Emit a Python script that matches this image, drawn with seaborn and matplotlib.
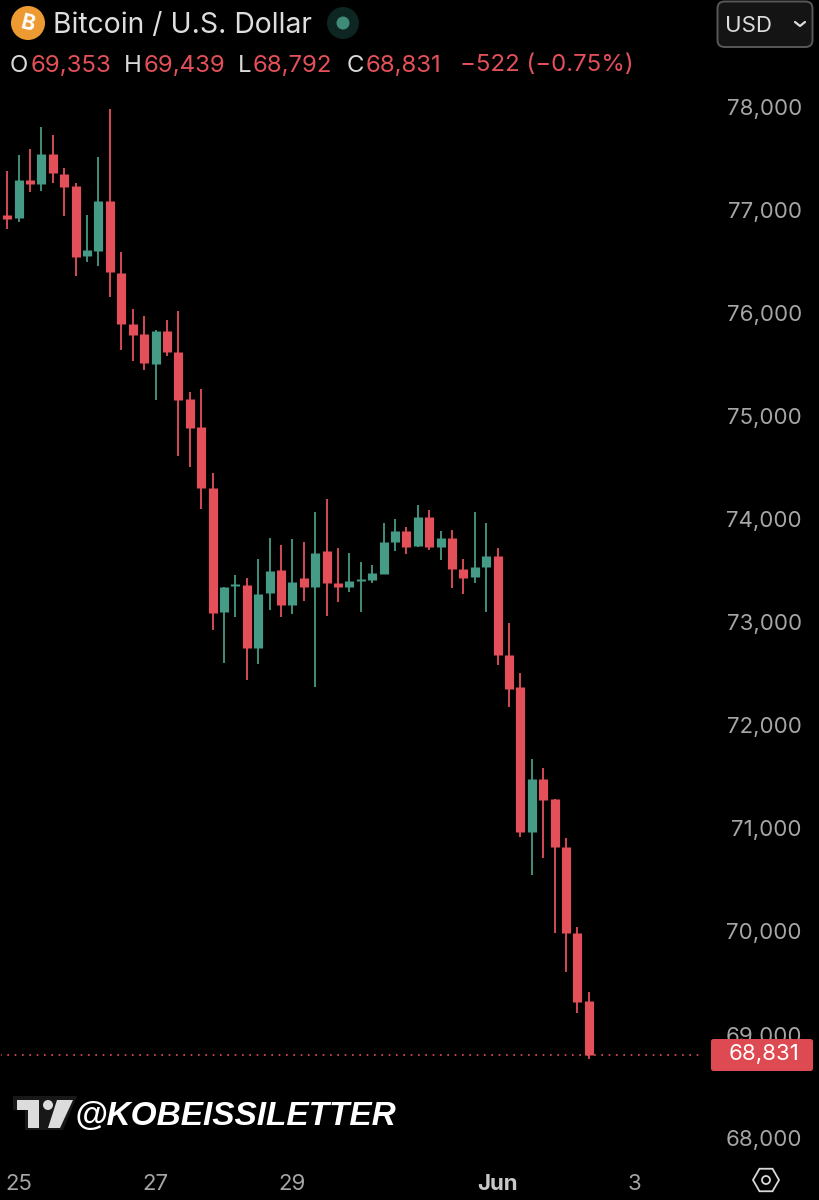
import numpy as np
import pandas as pd
import seaborn as sns
import matplotlib.pyplot as plt
from matplotlib.patches import Circle, FancyBboxPatch, Polygon, RegularPolygon
from matplotlib.transforms import ScaledTranslation

# 4h candles, index 0 is the first full candle on screen
candle_idx = list(range(-1, 52))
opens = [76669, 76979, 76947, 77321, 77280, 77568, 77377, 77260, 76584, 76633, 77115, 76419, 75922, 75825,
         75537, 75851, 75653, 75194, 74923, 74334, 73128, 73380, 73387, 72779, 73310, 73533, 73193, 73458,
         73371, 73720, 73412, 73374, 73429, 73442, 73500, 73807, 73911, 73768, 74052, 73762, 73846, 73548,
         73465, 73562, 73668, 72708, 72404, 70997, 71505, 71314, 70851, 70011, 69353]
highs = [77076, 77406, 77558, 77619, 77835, 77755, 77438, 77286, 76976, 77539, 78007, 76617, 76067, 75996,
         75861, 75960, 76048, 75259, 75288, 74473, 73371, 73487, 73461, 73642, 73849, 73778, 73839, 73804,
         74101, 74224, 73746, 73703, 73613, 73587, 73994, 74030, 73950, 74166, 74118, 73917, 73924, 73639,
         74098, 73994, 73746, 73018, 72533, 71699, 71612, 71314, 70933, 70076, 69439]
lows = [76669, 76840, 76914, 77199, 77215, 77289, 76972, 76387, 76523, 76487, 76181, 75667, 75566, 75475,
        75187, 75614, 74644, 74538, 74130, 72956, 72630, 73083, 72468, 72627, 73147, 73083, 73109, 73235,
        72398, 73092, 73228, 73325, 73131, 73409, 73500, 73723, 73688, 73759, 73732, 73636, 73361, 73300,
        73412, 73131, 72617, 72210, 70949, 70577, 70745, 70017, 69639, 69235, 68792]
closes = [76969, 76937, 77321, 77280, 77568, 77389, 77251, 76569, 76636, 77115, 76423, 75919, 75815, 75546,
          75851, 75647, 75187, 74916, 74331, 73121, 73371, 73400, 72779, 73306, 73523, 73193, 73416, 73371,
          73703, 73409, 73374, 73432, 73448, 73507, 73810, 73911, 73762, 74052, 73759, 73846, 73545, 73455,
          73568, 73668, 72714, 72381, 70997, 71508, 71305, 70849, 70017, 69348, 68831]

price_ticks = [78000, 77000, 76000, 75000, 74000, 73000, 72000, 71000, 70000, 69000, 68000]
date_ticks = [1, 13, 25, 43, 55]
date_labels = ["25", "27", "29", "Jun", "3"]
last_price = 68831

RED = "#e4505a"
GREEN = "#469b86"
GREY = "#a6a6a6"

sns.set_theme(style="dark", rc={"figure.facecolor": "black", "axes.facecolor": "black",
                                "axes.edgecolor": "black", "axes.grid": False})
plt.rcParams["font.family"] = ["Inter", "DejaVu Sans"]

df = pd.DataFrame({"idx": candle_idx, "open": opens, "high": highs, "low": lows, "close": closes})
df["side"] = np.where(df["close"] >= df["open"], "up", "down")
palette = {"up": GREEN, "down": RED}

wicks = df.melt(id_vars=["idx", "side"], value_vars=["low", "high"], value_name="price")
bodies = df.melt(id_vars=["idx", "side"], value_vars=["open", "close"], value_name="price")

fig = plt.figure(figsize=(8.19, 12), dpi=100)
ax = fig.add_axes([0, 0, 1, 1])

sns.lineplot(data=wicks, x="idx", y="price", units="idx", estimator=None, hue="side", palette=palette,
             linewidth=1.3, legend=False, ax=ax, solid_capstyle="butt")
sns.lineplot(data=bodies, x="idx", y="price", units="idx", estimator=None, hue="side", palette=palette,
             linewidth=6.6, legend=False, ax=ax, solid_capstyle="butt")

ax.set_xlim(-0.64, 71.2)
ax.set_ylim(67424.5, 79064.5)
ax.set_xlabel("")
ax.set_ylabel("")

ax.yaxis.tick_right()
ax.set_yticks(price_ticks)
ax.set_yticklabels([f"{p:,}" for p in price_ticks])
ax.tick_params(axis="y", length=0, pad=-12.3, labelsize=16, labelcolor=GREY)
for t in ax.get_yticklabels():
    t.set_ha("right")
# the scale labels sit a little above their price level
up3 = ScaledTranslation(0, 3 / 100, fig.dpi_scale_trans)
for tick in ax.yaxis.get_major_ticks():
    tick.label2.set_transform(tick.label2.get_transform() + up3)

ax.set_xticks(date_ticks)
ax.set_xticklabels(date_labels)
ax.tick_params(axis="x", length=0, pad=-19, labelsize=16, labelcolor=GREY)
ax.get_xticklabels()[3].set_fontweight("bold")
ax.get_xticklabels()[3].set_color("#c8c8c8")

# last price line
trans = ax.get_yaxis_transform()
ax.plot([0, 0.86], [last_price, last_price], transform=trans, color=RED, linewidth=1.2,
        linestyle=(0, (1, 3.4)), zorder=1)

# header, badge and watermark are drawn in pixel space on top
ov = fig.add_axes([0, 0, 1, 1])
ov.set_xlim(0, 819)
ov.set_ylim(1200, 0)
ov.axis("off")

fig.canvas.draw()
tag_y = 1200 - ax.transData.transform((0, last_price))[1]
ov.add_patch(FancyBboxPatch((711, tag_y - 16), 102, 32, boxstyle="round,pad=0,rounding_size=2.5",
                            facecolor="#dd4a52", edgecolor="none"))
ov.text(764.5, tag_y - 1, f"{last_price:,}", color="white", fontsize=16, ha="center", va="center")

ov.add_patch(Circle((28, 23), 17, facecolor="#ee9a33", edgecolor="none"))
ov.text(28, 24, "B", color="white", fontsize=15, fontweight="bold", ha="center", va="center", rotation=-14)
ov.text(53, 26, "Bitcoin / U.S. Dollar", color="#dedede", fontsize=20.4, ha="left", va="center")
ov.add_patch(Circle((343, 23), 16, facecolor="#0e2622", edgecolor="none"))
ov.add_patch(Circle((343, 23), 6.5, facecolor="#3f8b79", edgecolor="none"))

row = [("O", 10, "#d9d9d9"), ("69,353", 31, RED), ("H", 124, "#d9d9d9"), ("69,439", 144, RED),
       ("L", 238, "#d9d9d9"), ("68,792", 253, RED), ("C", 347, "#d9d9d9"), ("68,831", 366, RED),
       ("\u2212522 (\u22120.75%)", 460, RED)]
for txt, x, col in row:
    ov.text(x, 65.5, txt, color=col, fontsize=17.3, ha="left", va="center")

ov.add_patch(FancyBboxPatch((717.5, 1.5), 95, 45.5, boxstyle="round,pad=0,rounding_size=7",
                            facecolor="#141414", edgecolor="#585858", linewidth=1.4))
ov.text(725, 26, "USD", color="#dcdcdc", fontsize=16, ha="left", va="center")
ov.plot([795, 800, 805], [22, 26, 22], color="#dcdcdc", linewidth=1.6)

# tradingview mark + handle
ov.add_patch(Polygon([(13, 1096), (77, 1096), (63, 1130), (25, 1130), (25, 1110), (13, 1110)],
                     facecolor="#181818", edgecolor="none"))
ov.add_patch(Polygon([(17, 1100), (39, 1100), (39, 1128), (28, 1128), (28, 1110), (17, 1110)],
                     facecolor="#dcdcdc", edgecolor="none"))
ov.add_patch(Circle((48, 1105), 5, facecolor="#dcdcdc", edgecolor="none"))
ov.add_patch(Polygon([(57, 1100), (73, 1100), (60, 1128), (48, 1128)], facecolor="#dcdcdc", edgecolor="none"))
ov.text(75, 1116, "@KOBEISSILETTER", color="white", fontsize=24, family="Liberation Sans",
        fontweight="bold", fontstyle="italic", ha="left", va="center")

ov.add_patch(RegularPolygon((766, 1180), 6, radius=13, orientation=np.pi / 6, facecolor="none",
                            edgecolor="#d8d8d8", linewidth=1.3))
ov.add_patch(Circle((766, 1180), 4, facecolor="none", edgecolor="#d8d8d8", linewidth=1.3))

fig.savefig("out.png", dpi=100, facecolor="black")
